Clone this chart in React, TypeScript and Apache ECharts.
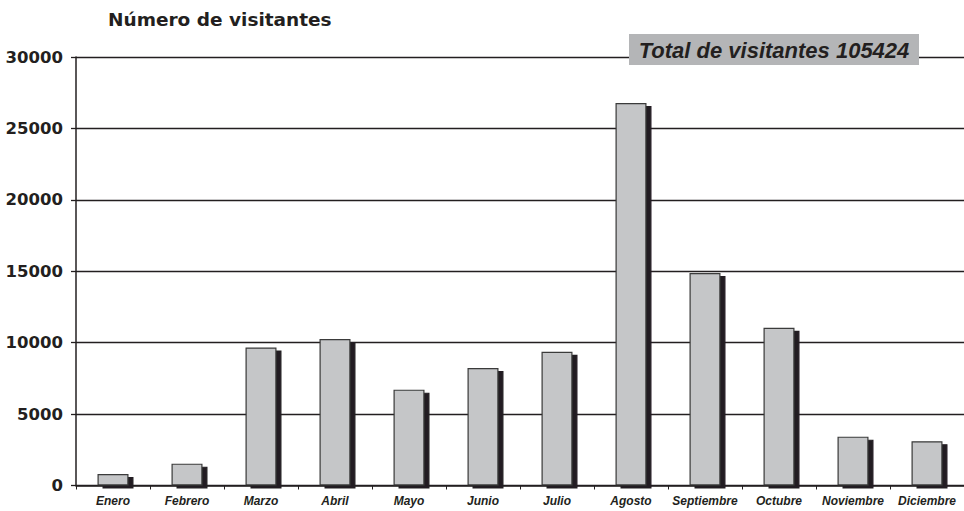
import React, { useEffect, useRef } from "react";
import * as echarts from "echarts";

const months = ["Enero", "Febrero", "Marzo", "Abril", "Mayo", "Junio", "Julio", "Agosto", "Septiembre", "Octubre", "Noviembre", "Diciembre"];
const visitors = [800, 1530, 9660, 10250, 6710, 8230, 9360, 26780, 14870, 11040, 3420, 3100];
const yTicks = { min: 0, max: 30000, interval: 5000 };
const titleText = "Número de visitantes";
const totalText = "Total de visitantes 105424";

export default function App() {
  const ref = useRef<HTMLDivElement>(null);
  useEffect(() => {
    if (!ref.current) return;
    const chart = echarts.init(ref.current, null, { renderer: "svg" });
    chart.setOption({
      animation: false,
      backgroundColor: "#ffffff",
      grid: { left: 76, right: 0, top: 57, bottom: 25.5, containLabel: false },
      graphic: [
        {
          type: "text",
          left: 108,
          top: 10,
          z: 100,
          style: {
            text: titleText,
            font: "bold 18.5px 'DejaVu Sans'",
            fill: "#231f20",
          },
        },
        {
          type: "rect",
          z: 100,
          shape: { x: 629, y: 34, width: 290, height: 31 },
          style: { fill: "#b4b5b7" },
        },
        {
          type: "text",
          z: 101,
          x: 774,
          y: 50,
          style: {
            text: totalText,
            font: "italic bold 22px 'Liberation Sans'",
            fill: "#231f20",
            align: "center",
            verticalAlign: "middle",
          },
        },
      ],
      xAxis: {
        type: "category",
        data: months,
        boundaryGap: true,
        axisLine: { show: true, lineStyle: { color: "#231f20", width: 1.5 } },
        axisTick: { show: true, length: 4, lineStyle: { color: "#231f20", width: 1 } },
        axisLabel: {
          color: "#231f20",
          fontFamily: "'Liberation Sans', Arial, sans-serif",
          fontWeight: "bold",
          fontStyle: "italic",
          fontSize: 12,
          margin: 9,
          interval: 0,
        },
        splitLine: { show: false },
      },
      yAxis: {
        type: "value",
        min: yTicks.min,
        max: yTicks.max,
        interval: yTicks.interval,
        axisLine: { show: true, lineStyle: { color: "#231f20", width: 1.5 } },
        axisTick: { show: true, length: 5, lineStyle: { color: "#231f20", width: 1.3 } },
        axisLabel: {
          color: "#231f20",
          fontFamily: "'DejaVu Sans', sans-serif",
          fontWeight: "bold",
          fontSize: 16.5,
          margin: 13,
          formatter: (v: number) => String(v),
        },
        splitLine: { show: true, lineStyle: { color: "#231f20", width: 1.3 } },
      },
      series: [
        {
          type: "bar",
          data: visitors,
          barWidth: 31,
          itemStyle: {
            color: "#c5c6c8",
            borderColor: "#3a3a3a",
            borderWidth: 1.2,
            shadowColor: "#231f20",
            shadowBlur: 0,
            shadowOffsetX: 5,
            shadowOffsetY: 3,
          },
        },
      ],
    });
    return () => chart.dispose();
  }, []);
  return <div ref={ref} style={{ position: "absolute", left: 0, top: 0, width: 964, height: 511 }} />;
}
